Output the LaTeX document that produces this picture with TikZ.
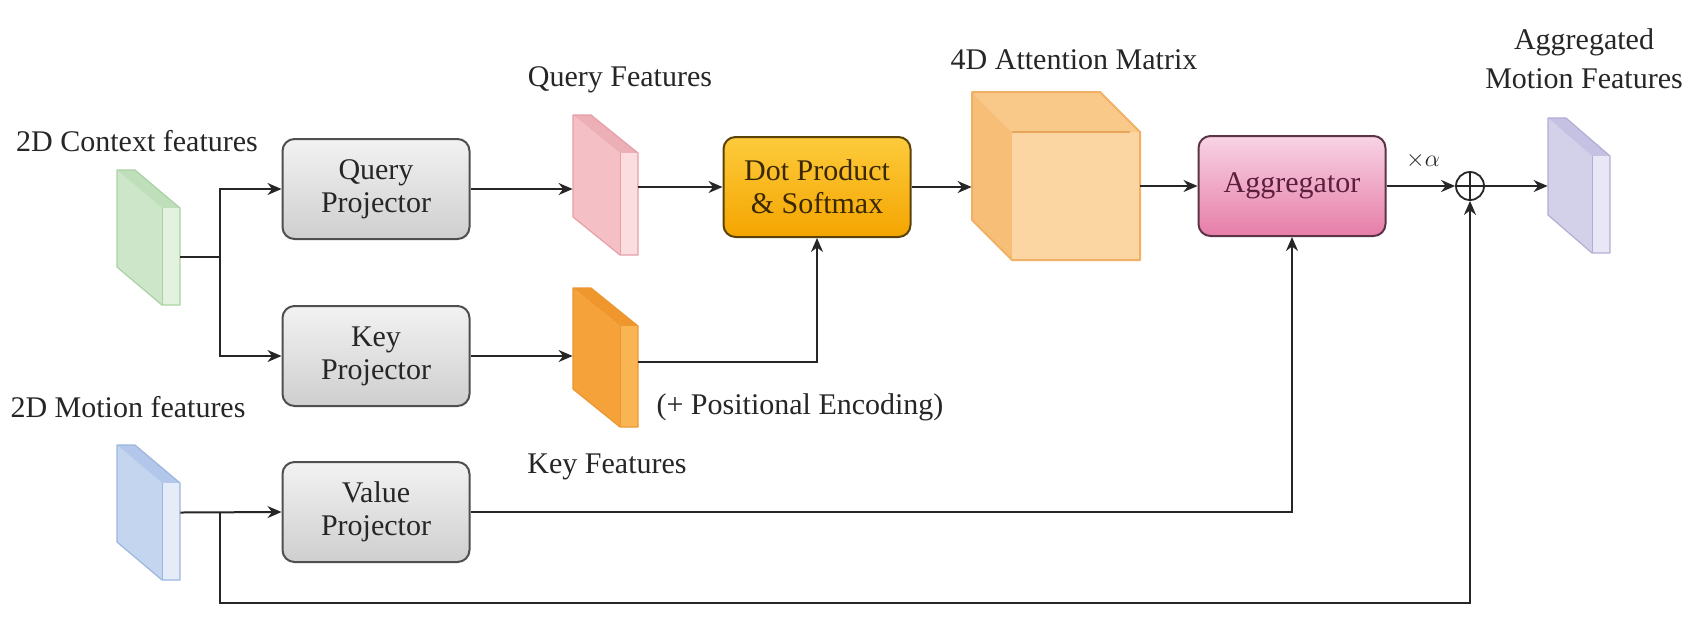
\documentclass[tikz,border=0pt]{standalone}
\usepackage{fontspec}
\setmainfont{Liberation Serif}
\usetikzlibrary{arrows.meta,calc,fit}
\definecolor{txt}{HTML}{262626}
\definecolor{edgegray}{HTML}{4F4F4F}
\definecolor{dotTop}{HTML}{FDCB3C}
\definecolor{dotBot}{HTML}{F4A500}
\definecolor{dotEdge}{HTML}{5A4208}
\definecolor{dotTxt}{HTML}{3A2800}
\definecolor{aggTop}{HTML}{F8D3E4}
\definecolor{aggBot}{HTML}{E67DA8}
\definecolor{aggEdge}{HTML}{5C3448}
\definecolor{aggTxt}{HTML}{5B1F3D}
\definecolor{cubeFront}{HTML}{FCD6A2}
\definecolor{cubeTop}{HTML}{F9C98A}
\definecolor{cubeLeft}{HTML}{F7BE78}
\definecolor{cubeEdge}{HTML}{F2B064}
% slab colours: side, front, top, edge
\definecolor{gS}{HTML}{CDE6C9}\definecolor{gF}{HTML}{E3F2DF}\definecolor{gT}{HTML}{BEDFB9}\definecolor{gE}{HTML}{A9D2A3}
\definecolor{pS}{HTML}{F4C0C6}\definecolor{pF}{HTML}{FBDDE0}\definecolor{pT}{HTML}{EDAFB6}\definecolor{pE}{HTML}{E69FA8}
\definecolor{oS}{HTML}{F5A23A}\definecolor{oF}{HTML}{F8B552}\definecolor{oT}{HTML}{EF972C}\definecolor{oE}{HTML}{EC9632}
\definecolor{bS}{HTML}{C3D5EF}\definecolor{bF}{HTML}{E4ECF8}\definecolor{bT}{HTML}{B2C7E9}\definecolor{bE}{HTML}{9DB6DE}
\definecolor{vS}{HTML}{D3D1EA}\definecolor{vF}{HTML}{E9E7F5}\definecolor{vT}{HTML}{C4C1E2}\definecolor{vE}{HTML}{B1AED5}
\tikzset{
  lbl/.style={font=\fontsize{15}{19.5}\selectfont, text=txt, inner sep=0pt},
  projbox/.style={draw=edgegray, line width=1pt, rounded corners=6pt,
    minimum width=93.5pt, minimum height=50pt, top color=gray!10, bottom color=gray!38,
    align=center, font=\fontsize{15}{16.5}\selectfont, text=txt, inner sep=0pt},
  dotbox/.style={projbox, draw=dotEdge, top color=dotTop, bottom color=dotBot, text=dotTxt},
  aggbox/.style={projbox, draw=aggEdge, top color=aggTop, bottom color=aggBot, text=aggTxt},
  conn/.style={line width=1pt, draw=txt},
  arr/.style={conn, -{Stealth[length=7pt,width=6pt]}},
  plusnode/.style={circle, draw=txt, line width=0.9pt, minimum size=14pt, inner sep=0pt},
}
\newcommand{\featslab}[9]{% name, L, R, T, B, side, front, top, edge
  \node[fit={(#2,#4) (#3,#5)}, inner sep=0pt] (#1) {};
  \fill[#6] (#2,#4) -- ({#3-18},{#4+38}) -- ({#3-18},#5) -- (#2,{#5-38}) -- cycle;
  \fill[#8] (#2,#4) -- ({#2+18},#4) -- (#3,{#4+38}) -- ({#3-18},{#4+38}) -- cycle;
  \fill[#7] ({#3-18},{#4+38}) rectangle (#3,#5);
  \draw[#9, line width=0.6pt, line join=round] (#2,#4) -- ({#2+18},#4) -- (#3,{#4+38}) -- (#3,#5)
     -- ({#3-18},#5) -- (#2,{#5-38}) -- cycle;
  \draw[#9, line width=0.5pt] ({#3-18},{#4+38}) -- ({#3-18},#5);
}
\begin{document}
\begin{tikzpicture}[x=0.5pt,y=-0.5pt]
\useasboundingbox (0,0) rectangle (1696,634);
\fill[white] (0,0) rectangle (1696,634);

% labels
\node[lbl] (tctx) at (137,141) {2D Context features};
\node[lbl] (tmot) at (128,407) {2D Motion features};
\node[lbl] (tq) at (620,80) {Query Features};
\node[lbl] (tk) at (607,467) {Key Features};
\node[lbl] (tpe) at (800,407) {(+ Positional Encoding)};
\node[lbl] (tatt) at (1074,60) {4D Attention Matrix};
\node[lbl, align=center] (tagg) at (1584,59) {Aggregated\\Motion Features};

% feature slabs
\featslab{green}{117}{180}{170}{305}{gS}{gF}{gT}{gE}
\featslab{pink}{573}{638}{115}{255}{pS}{pF}{pT}{pE}
\featslab{orange}{573}{638}{288}{427}{oS}{oF}{oT}{oE}
\featslab{blue}{117}{180}{445}{580}{bS}{bF}{bT}{bE}
\featslab{purple}{1548}{1610}{118}{253}{vS}{vF}{vT}{vE}

% cube
\node[fit={(972,92) (1140,260)}, inner sep=0pt] (cube) {};
\fill[cubeTop] (972,92) -- (1100,92) -- (1140,132) -- (1012,132) -- cycle;
\fill[cubeLeft] (972,92) -- (1012,132) -- (1012,260) -- (972,220) -- cycle;
\fill[cubeFront] (1012,132) rectangle (1140,260);
\draw[cubeEdge, line width=1pt, line join=round] (972,92) -- (1100,92) -- (1140,132) -- (1140,260) -- (1012,260) -- (972,220) -- cycle;
\draw[cubeEdge!80!brown, line width=0.8pt] (1012,132) -- (1130,132);

% boxes
\node[projbox] (qp) at (376,189) {Query\\Projector};
\node[projbox] (kp) at (376,356) {Key\\Projector};
\node[projbox] (vp) at (376,512) {Value\\Projector};
\node[dotbox] (dot) at (817,187) {Dot Product\\\& Softmax};
\node[aggbox] (agg) at (1292,186) {Aggregator};
\node[plusnode] (op) at (1470,186) {};
\draw[txt, line width=0.8pt] (op.north) -- (op.south) (op.west) -- (op.east);
\node[font=\fontsize{12}{14}\selectfont, text=txt] (alpha) at (1423,160) {$\times\alpha$};

% connectors
\coordinate (j1) at (220,257);
\coordinate (j2) at (220,603);
\coordinate (kout) at (638,362);
\draw[conn] (green.east |- j1) -- (j1);
\draw[arr] (j1) |- (qp.west);
\draw[arr] (j1) |- (kp.west);
\draw[arr] (qp.east) -- (qp.east -| pink.west);
\draw[arr] (kp.east) -- (kp.east -| orange.west);
\draw[arr] (pink.east |- dot.west) -- (dot.west);
\draw[arr] (kout) -| (dot.south);
\draw[arr] (dot.east) -- (dot.east -| cube.west);
\draw[arr] (cube.east |- agg.west) -- (agg.west);
\draw[arr] (agg.east) -- (op.west);
\draw[arr] (op.east) -- (op.east -| purple.west);
\draw[arr] (blue.east) -- (vp.west);
\draw[arr] (vp.east) -| (agg.south);
\draw[arr] (j2 |- vp.west) -- (j2) -| (op.south);
\end{tikzpicture}
\end{document}
